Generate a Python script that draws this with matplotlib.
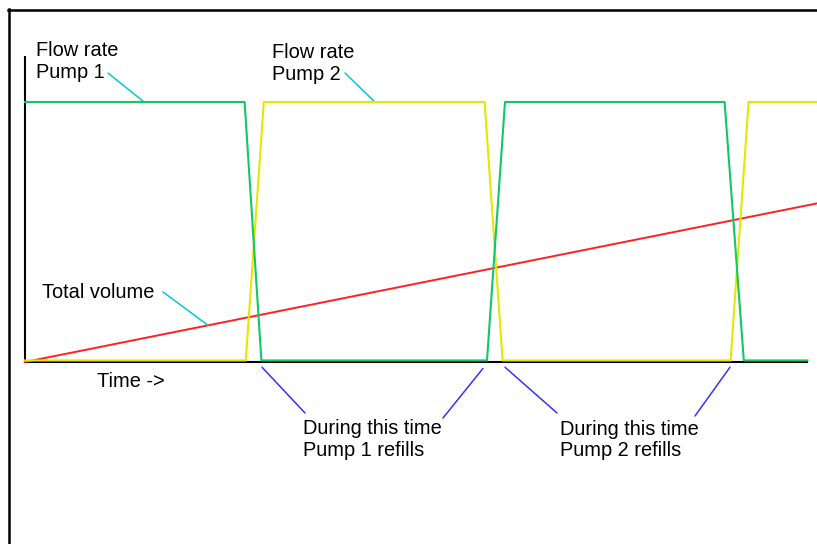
import matplotlib.pyplot as plt
from matplotlib.lines import Line2D

plt.rcParams['font.family'] = ['Liberation Sans', 'DejaVu Sans']

# Time breakpoints (arbitrary units) and flow levels of the two pumps
pump1_t = [0, 9.15, 9.85, 19.25, 20.0, 29.15, 29.95, 32.6]
pump1_flow = [1.0, 1.0, 0.006, 0.006, 1.0, 1.0, 0.006, 0.006]
pump2_t = [0, 9.2, 9.95, 19.15, 19.9, 29.4, 30.15, 33.0]
pump2_flow = [0.006, 0.006, 1.0, 1.0, 0.006, 0.006, 1.0, 1.0]
# Total delivered volume grows linearly
volume_t = [0, 33.0]
volume = [0.0, 0.61]

W, H = 817, 544
fig = plt.figure(figsize=(W / 100, H / 100), dpi=100)


def px(x, y):
    # top-left pixel -> figure fraction
    return x / W, 1 - y / H


# axes: x from pixel 25 to 817, y from 362 (bottom) up to 57
ax = fig.add_axes([25 / W, (H - 362) / H, 792 / W, 305 / H])
ax.set_xlim(0, 33)
ax.set_ylim(0, 1.173)
ax.patch.set_alpha(0)
for s in ['top', 'right']:
    ax.spines[s].set_visible(False)
ax.spines['left'].set_linewidth(1.5)
ax.spines['bottom'].set_linewidth(1.5)
ax.spines['bottom'].set_bounds(0, 32.6)
ax.set_xticks([])
ax.set_yticks([])

ax.plot(volume_t, volume, color='#ff2020', lw=1.4, clip_on=False, zorder=3)
ax.plot(pump2_t, pump2_flow, color='#e6e600', lw=1.5, clip_on=False, zorder=4)
ax.plot(pump1_t, pump1_flow, color='#10c866', lw=1.5, clip_on=False, zorder=5)

# outer frame (left and top edges only)
fig.add_artist(Line2D([9 / W, 9 / W], [0, 1 - 9 / H], color='black', lw=1.8))
fig.add_artist(Line2D([8 / W, 1], [1 - 10 / H, 1 - 10 / H], color='black', lw=1.8))

# text placed by the baseline of its last line
fs = 14.4
ls = 1.18
fig.text(*px(36, 77.5), 'Flow rate\nPump 1', fontsize=fs, va='baseline', linespacing=ls)
fig.text(*px(272, 79.5), 'Flow rate\nPump 2', fontsize=fs, va='baseline', linespacing=ls)
fig.text(*px(42, 298), 'Total volume', fontsize=fs, va='baseline')
fig.text(*px(97, 387), 'Time ->', fontsize=fs, va='baseline')
fig.text(*px(303, 455.5), 'During this time\nPump 1 refills', fontsize=fs, va='baseline', linespacing=ls)
fig.text(*px(560, 456.5), 'During this time\nPump 2 refills', fontsize=fs, va='baseline', linespacing=ls)


def leader(xy, start, color):
    ax.annotate('', xy=xy, xycoords='data', xytext=px(*start), textcoords='figure fraction',
                annotation_clip=False,
                arrowprops=dict(arrowstyle='-', color=color, lw=1.1, shrinkA=0, shrinkB=0))


cyan = '#00cccc'
blue = '#3333ff'
leader((4.96, 1.0), (108, 73), cyan)
leader((14.58, 1.0), (345, 73), cyan)
leader((7.63, 0.141), (163, 292), cyan)
leader((9.875, -0.02), (305, 413), blue)
leader((19.08, -0.025), (443, 418), blue)
leader((20.0, -0.02), (557, 413), blue)
leader((29.375, -0.02), (695, 416), blue)

fig.savefig('out.png', dpi=100)
